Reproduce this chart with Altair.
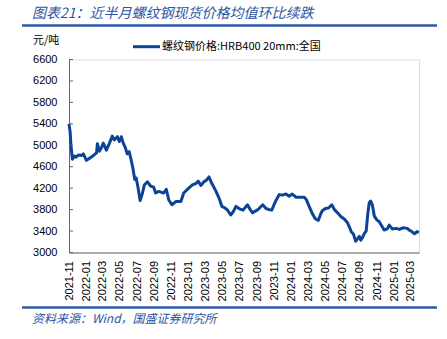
import altair as alt
import pandas as pd

# weekly national HRB400 20mm rebar price (yuan/ton)
dates = [
    "2021/11/01", "2021/11/05", "2021/11/08", "2021/11/13", "2021/11/20", "2021/11/27",
    "2021/12/04", "2021/12/15", "2021/12/22", "2022/01/02", "2022/01/13", "2022/01/27",
    "2022/02/07", "2022/02/10", "2022/02/17", "2022/02/24", "2022/03/03", "2022/03/14",
    "2022/03/25", "2022/04/04", "2022/04/11", "2022/04/22", "2022/04/29", "2022/05/06",
    "2022/05/13", "2022/05/20", "2022/05/27", "2022/06/03", "2022/06/10", "2022/06/17",
    "2022/06/23", "2022/06/28", "2022/07/05", "2022/07/12", "2022/07/20", "2022/07/27",
    "2022/08/07", "2022/08/18", "2022/08/29", "2022/09/05", "2022/09/16", "2022/09/27",
    "2022/10/04", "2022/10/13", "2022/10/22", "2022/11/02", "2022/11/16", "2022/12/04",
    "2022/12/14", "2023/01/01", "2023/01/14", "2023/01/27", "2023/02/04", "2023/02/13",
    "2023/02/24", "2023/03/05", "2023/03/14", "2023/03/21", "2023/04/08", "2023/04/19",
    "2023/04/29", "2023/05/10", "2023/05/19", "2023/05/30", "2023/06/08", "2023/06/18",
    "2023/06/29", "2023/07/13", "2023/07/29", "2023/08/09", "2023/08/16", "2023/09/01",
    "2023/09/08", "2023/09/21", "2023/10/03", "2023/10/14", "2023/10/23", "2023/11/08",
    "2023/11/19", "2023/11/29", "2023/12/13", "2023/12/24", "2024/01/04", "2024/01/18",
    "2024/02/05", "2024/02/16", "2024/02/23", "2024/03/05", "2024/03/15", "2024/03/26",
    "2024/04/06", "2024/04/13", "2024/04/20", "2024/05/01", "2024/05/12", "2024/05/24",
    "2024/06/02", "2024/06/13", "2024/06/25", "2024/07/08", "2024/07/18", "2024/07/25",
    "2024/08/01", "2024/08/09", "2024/08/17", "2024/08/25", "2024/08/30", "2024/09/04",
    "2024/09/11", "2024/09/16", "2024/09/23", "2024/09/29", "2024/10/04", "2024/10/09",
    "2024/10/15", "2024/10/22", "2024/10/31", "2024/11/09", "2024/11/16", "2024/11/26",
    "2024/12/07", "2024/12/14", "2024/12/25", "2025/01/08", "2025/01/19", "2025/02/01",
    "2025/02/16", "2025/02/23", "2025/03/04", "2025/03/14", "2025/03/23", "2025/03/29",
]
prices = [
    5400, 5250, 5000, 4740, 4800, 4780,
    4820, 4810, 4840, 4720, 4760, 4810,
    4860, 5030, 4890, 4950, 5040, 4910,
    5040, 5170, 5100, 5160, 5070, 5160,
    5040, 4960, 4840, 4880, 4730, 4550,
    4360, 4390, 4200, 3970, 4100, 4260,
    4320, 4240, 4220, 4110, 4140, 4120,
    4110, 4180, 3980, 3890, 3950, 3950,
    4110, 4200, 4260, 4290, 4330, 4250,
    4320, 4350, 4410, 4320, 4140, 4010,
    3860, 3830, 3790, 3700, 3760, 3860,
    3820, 3790, 3890, 3790, 3740, 3790,
    3820, 3890, 3820, 3800, 3790, 3980,
    4080, 4070, 4090, 4050, 4090, 4030,
    4030, 4030, 3990, 3850, 3730, 3630,
    3600, 3700, 3780, 3820, 3830, 3890,
    3800, 3740, 3670, 3620, 3560, 3480,
    3390, 3340, 3210, 3270, 3300, 3230,
    3290, 3350, 3400, 3730, 3930, 3960,
    3890, 3680, 3610, 3570, 3510, 3420,
    3440, 3510, 3440, 3450, 3430, 3460,
    3450, 3420, 3390, 3350, 3390, 3370,
]

y_ticks = [3000, 3400, 3800, 4200, 4600, 5000, 5400, 5800, 6200, 6600]
x_tick_months = [(2021, 11), (2022, 1), (2022, 3), (2022, 5), (2022, 7), (2022, 9),
                 (2022, 11), (2023, 1), (2023, 3), (2023, 5), (2023, 7), (2023, 9),
                 (2023, 11), (2024, 1), (2024, 3), (2024, 5), (2024, 7), (2024, 9),
                 (2024, 11), (2025, 1), (2025, 3)]

title_text = "图表21：近半月螺纹钢现货价格均值环比续跌"
series_name = "螺纹钢价格:HRB400 20mm:全国"
unit_text = "元/吨"
source_text = "资料来源：Wind，国盛证券研究所"

LINE_COLOR = "#0b4497"
BLUE_TEXT = "#2c54a3"
FONT = "Liberation Sans"
CJK = "Noto Sans CJK SC"

df = pd.DataFrame({"date": dates, "price": prices})
ticks_df = pd.DataFrame({"price": y_ticks})

W, H = 350, 193

x_scale = alt.Scale(domain=[alt.DateTime(year=2021, month=11, date=1),
                            alt.DateTime(year=2025, month=3, date=30)], nice=False)
y_scale = alt.Scale(domain=[3000, 6600], nice=False, zero=False)

y_axis = alt.Axis(values=y_ticks, format="d", ticks=False, grid=False, labelFont=FONT,
                  labelFontSize=11, labelColor="#000", labelPadding=12,
                  domainColor="#666", labelOverlap=False)

line = alt.Chart(df).mark_line(color=LINE_COLOR, strokeWidth=3, strokeJoin="round").encode(
    x=alt.X("date:T", scale=x_scale, title=None,
            axis=alt.Axis(values=[alt.DateTime(year=y, month=m, date=1) for y, m in x_tick_months],
                          format="%Y-%m", labelAngle=270, ticks=False, grid=False,
                          labelFont=FONT, labelFontSize=11, labelColor="#000",
                          labelPadding=8, domainColor="#666", labelOverlap=False)),
    y=alt.Y("price:Q", scale=y_scale, title=None, axis=y_axis),
)

yticks = alt.Chart(ticks_df).mark_rule(color="#666", strokeWidth=1).encode(
    y=alt.Y("price:Q", scale=y_scale, title=None, axis=y_axis),
    x=alt.value(0),
    x2=alt.value(4),
)

def txt(s, x, y, size=11, color="#000", font=FONT, style="normal", align="left"):
    return alt.Chart(pd.DataFrame({"t": [s]})).mark_text(
        align=align, baseline="middle", fontSize=size, color=color, font=font,
        fontStyle=style).encode(text="t:N", x=alt.value(x), y=alt.value(y))

def hline(x1, x2, y, color, width):
    return alt.Chart(pd.DataFrame({"a": [0]})).mark_rule(color=color, strokeWidth=width).encode(
        x=alt.value(x1), x2=alt.value(x2), y=alt.value(y))

title = txt(title_text, -37, -46, size=14, color=BLUE_TEXT, font=CJK, style="italic")
title_rule = hline(-47, 368, -34, "#2e5aa8", 2.5)
unit = txt(unit_text, -36, -18.5, size=11, font=CJK)
leg_line = hline(64, 91, -12.8, LINE_COLOR, 3)
leg_text = txt(series_name, 93, -12.8, size=11, font=CJK)
foot_rule = hline(-47, 368, 248, "#2e5aa8", 2.5)
source = txt(source_text, -37, 259, size=12, color=BLUE_TEXT, font=CJK, style="italic")

chart = alt.layer(line, yticks, title, title_rule, unit, leg_line, leg_text, foot_rule, source).properties(
    width=W, height=H,
    autosize=alt.AutoSizeParams(type="none"),
    padding={"left": 69, "top": 59.5, "right": 28, "bottom": 86.5},
).configure_view(stroke=None).configure(background="white")

chart.save("out.html", embed_options={"renderer": "svg", "actions": False})
